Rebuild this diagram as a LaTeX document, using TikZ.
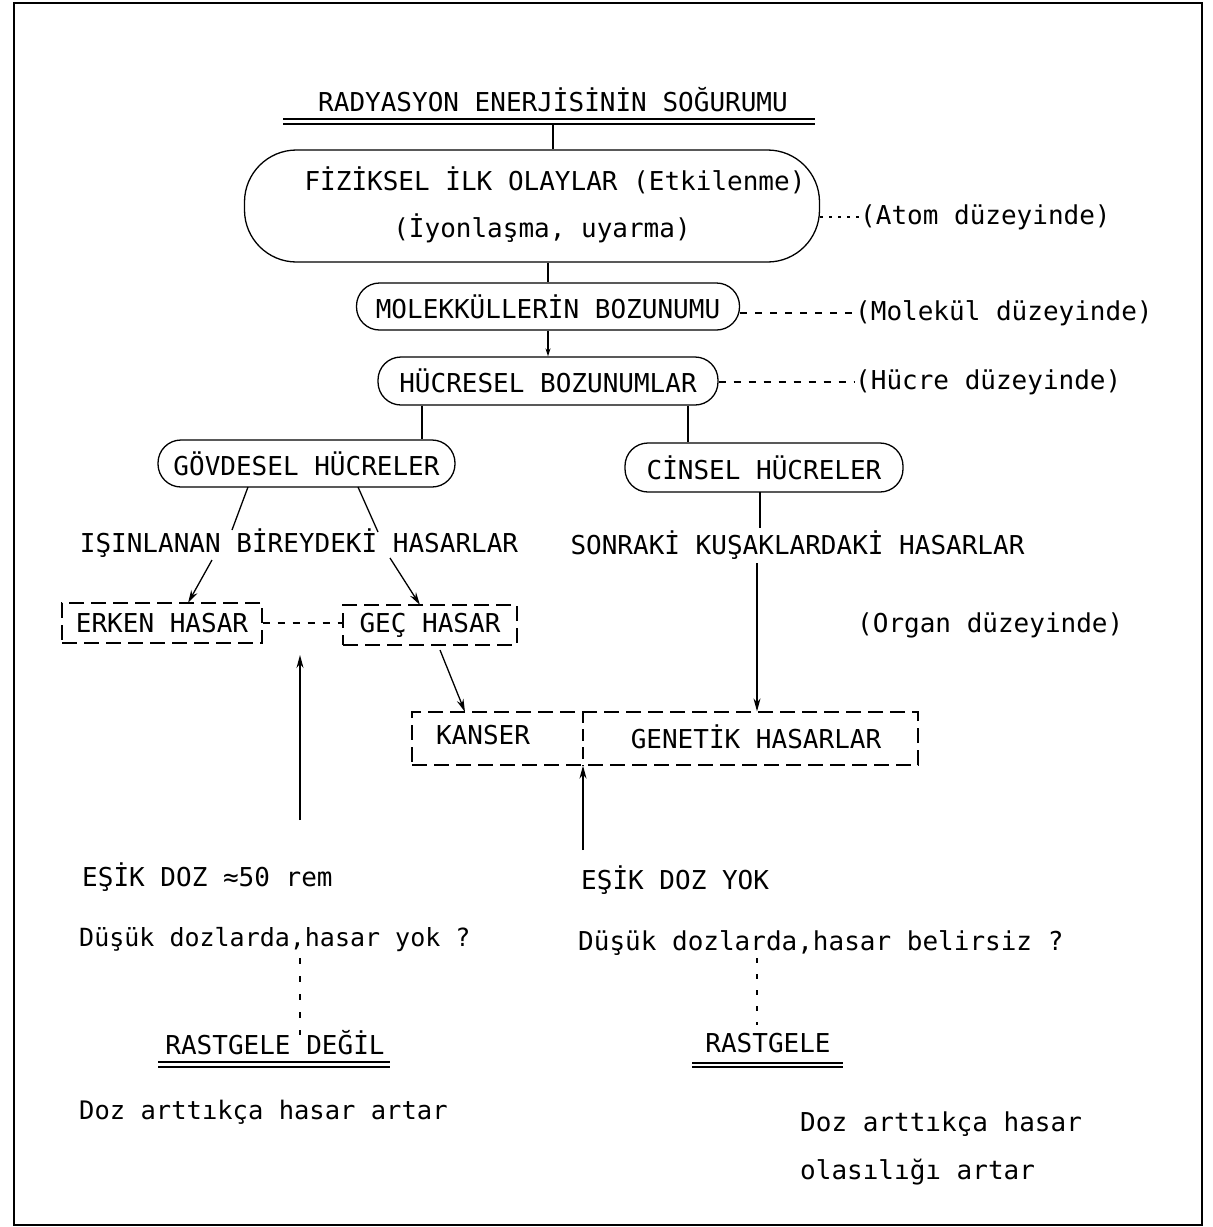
\documentclass[tikz,border=0pt]{standalone}
\usepackage{fontspec}
\setmonofont{DejaVu Sans Mono}
\usetikzlibrary{arrows.meta}
\begin{document}
\begin{tikzpicture}[x=1pt,y=-1pt,
  every node/.style={font=\fontsize{26}{30}\selectfont\ttfamily, inner sep=0pt},
  ln/.style={line width=1.3pt},
  rbox/.style={draw, line width=1.3pt, rounded corners=23pt, minimum height=47pt},
  dbox/.style={draw, line width=1.3pt, dash pattern=on 15pt off 7pt},
  arr/.style={ln, -{Stealth[length=13pt,width=7pt]}},
  dots/.style={ln, dash pattern=on 3pt off 6pt},
  dsh/.style={ln, dash pattern=on 7pt off 8pt},
  lt/.style={anchor=west}]
\useasboundingbox (0,0) rectangle (1213,1227);
\draw[ln] (14,3) rectangle (1202,1225);

% title
\node (title) at (553,100) {RADYASYON ENERJİSİNİN SOĞURUMU};
\draw[ln] (283,119) -- (815,119);
\draw[ln] (283,124) -- (815,124);
\coordinate (tu) at (553,124);

% box 1
\node[draw, line width=1.3pt, rounded corners=52pt, minimum width=575pt, minimum height=112pt] (b1) at (532,206) {};
\node (b1a) at (555,180) {FİZİKSEL İLK OLAYLAR (Etkilenme)};
\node (b1b) at (542,228) {(İyonlaşma, uyarma)};
\draw[ln] (tu) -- (b1.north -| tu);
\node[lt] (atom) at (860,217) {(Atom düzeyinde)};
\draw[dots] (atom.west -| b1.east) -- (atom.west);

% box 2
\node[rbox, minimum width=383pt] (b2) at (548,306.5) {MOLEKKÜLLERİN BOZUNUMU};
\draw[ln] (b1.south -| b2.north) -- (b2.north);
\node[lt] (mol) at (855,313) {(Molekül düzeyinde)};
\draw[dsh] (mol.west -| b2.east) -- (mol.west);

% box 3
\node[rbox, minimum width=340pt, minimum height=48pt] (b3) at (548,381) {HÜCRESEL BOZUNUMLAR};
\draw[ln, -{Stealth[length=8pt,width=5pt]}] (b2.south) -- (b3.north);
\node[lt] (huc) at (855,382) {(Hücre düzeyinde)};
\draw[dsh] (huc.west -| b3.east) -- (huc.west);

% level 4
\node[rbox, minimum width=297pt] (gov) at (306.5,463.5) {GÖVDESEL HÜCRELER};
\node[rbox, minimum width=278pt, minimum height=49pt] (cin) at (764,467.5) {CİNSEL HÜCRELER};
\coordinate (xg) at (422,0);
\coordinate (xc) at (688,0);
\draw[ln] (b3.south -| xg) -- (gov.north -| xg);
\draw[ln] (b3.south -| xc) -- (cin.north -| xc);

\node (isin) at (299,543) {IŞINLANAN BİREYDEKİ HASARLAR};
\node (sonr) at (797.5,545) {SONRAKİ KUŞAKLARDAKİ HASARLAR};
\coordinate (g1) at (248,487);
\coordinate (g1e) at (232,530);
\coordinate (g2) at (358,487);
\coordinate (g2e) at (378,532);
\draw[ln] (g1) -- (g1e);
\draw[ln] (g2) -- (g2e);
\coordinate (c1) at (760,492);
\coordinate (c1e) at (760,528);
\draw[ln] (c1) -- (c1e);

% damage boxes
\node[dbox, minimum width=200pt, minimum height=40pt] (erken) at (162,623) {ERKEN HASAR};
\node[dbox, minimum width=174pt, minimum height=40pt] (gec) at (430,625) {GEÇ HASAR};
\draw[dsh] (erken.east) -- (erken.east -| gec.west);
\coordinate (a1) at (212,560);
\coordinate (a2) at (390,558);
\draw[arr] (a1) -- (188,603) coordinate (a1e);
\draw[arr] (a2) -- (420,605) coordinate (a2e);
\node[lt] (organ) at (857,625) {(Organ düzeyinde)};

\node[dbox, minimum width=506pt, minimum height=53pt] (kg) at (665,738.5) {};
\node (kanser) at (483,735) {KANSER};
\node (gen) at (756,737) {GENETİK HASARLAR};
\coordinate (dv) at (583,0);
\draw[ln, dash pattern=on 12pt off 6pt] (kg.north -| dv) -- (kg.south -| dv);

\coordinate (s1) at (757,563);
\draw[arr] (s1) -- (s1 |- kg.north);
\coordinate (gb) at (440,650);
\draw[arr] (gb) -- (465,712);

\coordinate (u1) at (300,820);
\draw[arr] (u1) -- (300,655);
\coordinate (u2) at (583,850);
\draw[arr] (u2) -- (u2 |- kg.south);

% lower text
\node[lt] (esik1) at (82,877) {EŞİK DOZ ≈50 rem};
\node[lt] (esik2) at (581,880) {EŞİK DOZ YOK};
\node[lt, font=\fontsize{25}{30}\selectfont\ttfamily] (dus1) at (79,940) {Düşük dozlarda,hasar yok ?};
\node[lt] (dus2) at (578,943) {Düşük dozlarda,hasar belirsiz ?};
\coordinate (d1) at (300,958);
\draw[ln, dash pattern=on 6pt off 12pt] (d1) -- (300,1035);
\coordinate (d2) at (757,958);
\draw[ln, dash pattern=on 5pt off 11pt] (d2) -- (757,1025);

\node (rd) at (275,1043) {RASTGELE DEĞİL};
\draw[ln] (158,1062) -- (390,1062);
\draw[ln] (158,1067) -- (390,1067);
\node (rg) at (768,1043) {RASTGELE};
\draw[ln] (692,1063) -- (843,1063);
\draw[ln] (692,1067) -- (843,1067);

\node[lt, font=\fontsize{25.5}{30}\selectfont\ttfamily] (doz1) at (79,1112) {Doz arttıkça hasar artar};
\node[lt] (doz2) at (800,1124) {Doz arttıkça hasar};
\node[lt] (doz3) at (800,1172) {olasılığı artar};
\end{tikzpicture}
\end{document}
